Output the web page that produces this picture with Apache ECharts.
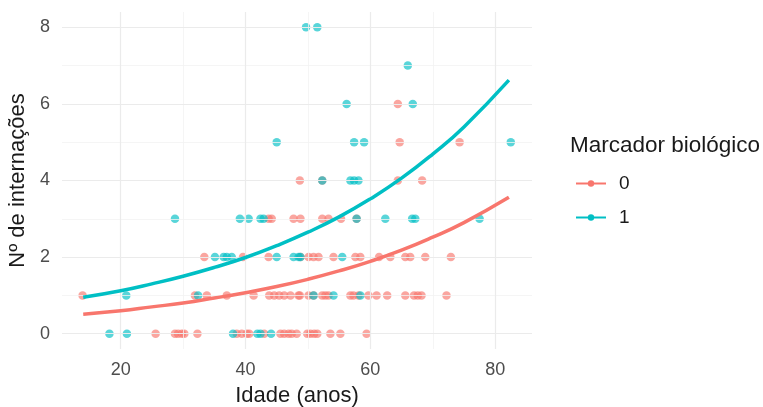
<!DOCTYPE html>
<html><head><meta charset="utf-8">
<script src="https://cdn.jsdelivr.net/npm/echarts@6/dist/echarts.min.js"></script>
<style>html,body{margin:0;padding:0;background:#fff}#c{width:763px;height:407px}</style>
</head><body><div id="c"></div>
<script>
// tick labels
const ageTicks = [20, 40, 60, 80];
const countTicks = [0, 2, 4, 6, 8];
const ageMinorGrid = [30, 50, 70];
const countMinorGrid = [1, 3, 5, 7];

// Marcador 0 (ages per number of hospitalizations)
const m0_n0 = [25.6, 28.7, 29.2, 29.8, 30.2, 32.3, 38.6, 39.4, 40.2, 40.6, 43.0, 45.6, 46.2, 46.9, 47.4, 48.2, 49.9, 50.4, 51.0, 51.5, 53.6, 55.2, 59.4];
const m0_n1 = [13.9, 31.9, 33.8, 37.0, 41.3, 43.8, 44.6, 45.4, 46.2, 47.2, 48.5, 48.7, 50.1, 50.9, 52.3, 52.8, 53.3, 56.8, 57.3, 58.1, 59.7, 61.0, 62.7, 65.6, 67.0, 67.6, 68.2, 72.2];
const m0_n2 = [33.4, 39.6, 43.7, 48.8, 50.1, 50.9, 51.7, 54.1, 57.6, 58.4, 61.4, 63.2, 65.6, 66.4, 68.8, 72.9];
const m0_n3 = [43.7, 44.2, 47.7, 48.8, 52.3, 53.3, 55.3, 57.8];
const m0_n4 = [48.7, 52.3, 64.4, 68.3];
const m0_n5 = [64.7, 74.3];
const m0_n6 = [64.4];

// Marcador 1
const m1_n0 = [18.2, 21.0, 38.0, 41.9, 42.4, 44.1];
const m1_n1 = [20.9, 32.4, 50.9, 54.1, 58.4];
const m1_n2 = [35.1, 36.5, 37.0, 37.8, 45.0, 47.7, 48.5, 48.8, 55.5];
const m1_n3 = [28.7, 39.1, 40.5, 42.4, 42.9, 57.8, 62.4, 66.7, 67.2, 77.5];
const m1_n4 = [52.3, 56.8, 57.4, 58.1];
const m1_n5 = [45.0, 57.4, 59.0, 82.5];
const m1_n6 = [56.2, 66.8];
const m1_n7 = [66.0];
const m1_n8 = [49.7, 51.5];

// fitted curves
const curveAges = [14, 20, 25, 30, 35, 40, 45, 50, 55, 60, 65, 70, 75, 82.2];
const fit0 = [0.51, 0.60, 0.70, 0.80, 0.93, 1.07, 1.23, 1.42, 1.64, 1.89, 2.18, 2.52, 2.90, 3.56];
const fit1 = [0.95, 1.12, 1.30, 1.50, 1.73, 1.99, 2.30, 2.65, 3.05, 3.52, 4.06, 4.69, 5.40, 6.62];

const RED = '#F8766D', TEAL = '#00BFC4';
function pts(ages, n) { return ages.map(a => [a, n]); }
const pts0 = [].concat(pts(m0_n0,0), pts(m0_n1,1), pts(m0_n2,2), pts(m0_n3,3), pts(m0_n4,4), pts(m0_n5,5), pts(m0_n6,6));
const pts1 = [].concat(pts(m1_n0,0), pts(m1_n1,1), pts(m1_n2,2), pts(m1_n3,3), pts(m1_n4,4), pts(m1_n5,5), pts(m1_n6,6), pts(m1_n7,7), pts(m1_n8,8));

const majorStyle = {color: '#EBEBEB', width: 1.2, type: 'solid'};
const minorStyle = {color: '#F2F2F2', width: 0.8, type: 'solid'};
const gridLines = [].concat(
  ageMinorGrid.map(v => ({xAxis: v, lineStyle: minorStyle})),
  countMinorGrid.map(v => ({yAxis: v, lineStyle: minorStyle})),
  ageTicks.map(v => ({xAxis: v, lineStyle: majorStyle})),
  countTicks.map(v => ({yAxis: v, lineStyle: majorStyle}))
);

const chart = echarts.init(document.getElementById('c'), null, {renderer: 'canvas'});
chart.setOption({
  animation: false,
  backgroundColor: '#fff',
  textStyle: {fontFamily: 'Liberation Sans, Arial, sans-serif'},
  grid: {left: 62, top: 12, width: 470, height: 337, outerBoundsMode: 'none', containLabel: false},
  title: {
    text: 'Marcador biológico', left: 565, top: 129,
    textStyle: {fontSize: 22.5, fontWeight: 'normal', color: '#1a1a1a', fontFamily: 'Liberation Sans, Arial, sans-serif'}
  },
  legend: {
    orient: 'vertical', left: 570, top: 169, itemWidth: 30, itemHeight: 8, itemGap: 15,
    data: ['0', '1'],
    textStyle: {fontSize: 19, color: '#1a1a1a', padding: [0, 0, 0, 8]}
  },
  xAxis: {
    type: 'value', min: 10.6, max: 85.9,
    name: 'Idade (anos)', nameLocation: 'middle', nameGap: 36,
    nameTextStyle: {fontSize: 22, color: '#1a1a1a'},
    axisLine: {show: false}, axisTick: {show: false}, splitLine: {show: false},
    axisLabel: {customValues: ageTicks, fontSize: 18, color: '#4D4D4D', margin: 12}
  },
  yAxis: {
    type: 'value', min: -0.4, max: 8.4,
    name: 'Nº de internações', nameLocation: 'middle', nameGap: 26, nameRotate: 90,
    nameTextStyle: {fontSize: 22, color: '#1a1a1a'},
    axisLine: {show: false}, axisTick: {show: false}, splitLine: {show: false},
    axisLabel: {customValues: countTicks, fontSize: 18, color: '#4D4D4D', margin: 12}
  },
  series: [
    {type: 'scatter', name: 'grid', data: [], z: 0, silent: true,
     markLine: {silent: true, symbol: ['none', 'none'], label: {show: false}, data: gridLines, animation: false}},
    {type: 'scatter', name: 'p0', data: pts0, symbolSize: 8.5, z: 2,
     itemStyle: {color: RED, opacity: 0.65}},
    {type: 'scatter', name: 'p1', data: pts1, symbolSize: 8.5, z: 2,
     itemStyle: {color: TEAL, opacity: 0.65}},
    {type: 'line', name: '0', data: curveAges.map((a, i) => [a, fit0[i]]), smooth: true,
     showSymbol: false, symbol: 'circle', symbolSize: 6, z: 5,
     lineStyle: {color: RED, width: 3.5}, itemStyle: {color: RED}},
    {type: 'line', name: '1', data: curveAges.map((a, i) => [a, fit1[i]]), smooth: true,
     showSymbol: false, symbol: 'circle', symbolSize: 6, z: 5,
     lineStyle: {color: TEAL, width: 3.5}, itemStyle: {color: TEAL}}
  ]
});
</script>
</body></html>
